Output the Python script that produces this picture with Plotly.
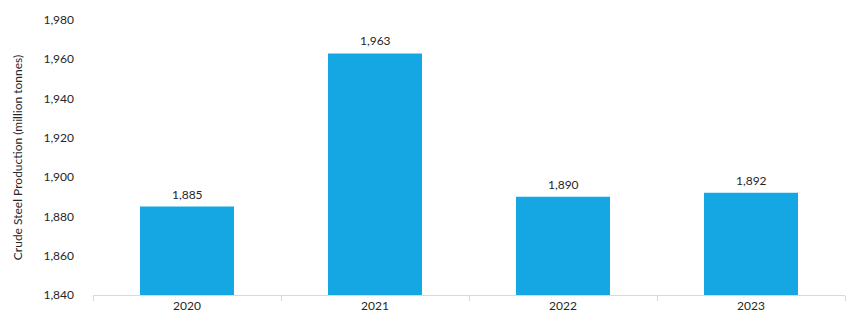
import plotly.graph_objects as go

years = ["2020", "2021", "2022", "2023"]
production = [1885, 1963, 1890, 1892]
y_ticks = [1840, 1860, 1880, 1900, 1920, 1940, 1960, 1980]

fig = go.Figure()
fig.add_trace(go.Bar(
    x=years, y=production,
    width=0.5,
    marker=dict(color="#14A7E3", line=dict(width=0)),
    cliponaxis=False,
))

for i, v in enumerate(production):
    fig.add_annotation(
        x=i, y=v, text=f"{v:,}", showarrow=False,
        yanchor="bottom", yshift=3,
        font=dict(family="Lato", size=12, color="#262626"),
    )

fig.update_layout(
    width=858, height=332,
    margin=dict(l=93, r=13, t=20, b=37),
    paper_bgcolor="white", plot_bgcolor="white",
    showlegend=False,
    font=dict(family="Lato", size=12, color="#262626"),
    xaxis=dict(
        type="category",
        range=[-0.5, 3.5],
        showline=True, linecolor="#D9D9D9", linewidth=1,
        ticks="outside", tickson="boundaries", ticklen=5, tickcolor="#D9D9D9",
        showgrid=False,
        tickfont=dict(family="Lato", size=12, color="#262626"),
    ),
    yaxis=dict(
        range=[1840, 1980],
        tickvals=y_ticks,
        tickformat=",",
        showgrid=False, zeroline=False, showline=False,
        ticklabelstandoff=18,
        tickfont=dict(family="Lato", size=12, color="#262626"),
        title=dict(text="Crude Steel Production (million tonnes)",
                   font=dict(family="Lato", size=12, color="#262626"),
                   standoff=18),
    ),
)

fig.write_html("out.html")
